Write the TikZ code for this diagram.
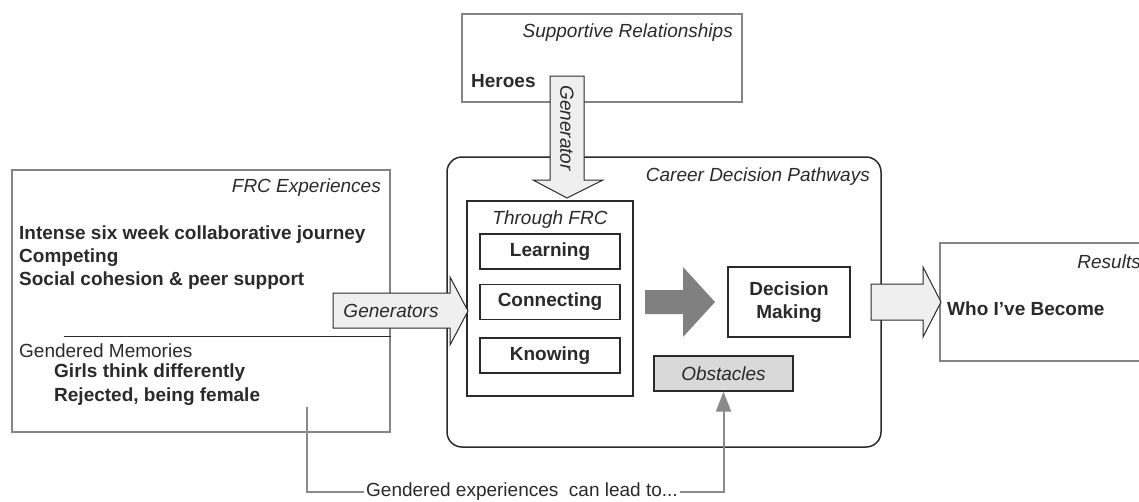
\documentclass[tikz,border=0pt]{standalone}
\usepackage{fontspec}
\setmainfont{Liberation Sans}
\usetikzlibrary{arrows.meta}

\definecolor{boxgray}{HTML}{858585}
\definecolor{inkdark}{HTML}{2A2A2A}
\definecolor{linegray}{HTML}{8A8A8A}
\definecolor{arrowfill}{HTML}{EFEFEF}
\definecolor{obstfill}{HTML}{D9D9D9}
\definecolor{bigarrow}{HTML}{808080}

\newcommand\figsize{\fontsize{19}{23}\selectfont}

\tikzset{
  outerbox/.style={draw=boxgray, line width=2pt, inner sep=0pt},
  innerbox/.style={draw=inkdark, line width=1.2pt, inner sep=0pt},
  blockarrow/.style={draw=inkdark, fill=arrowfill, line width=1pt},
  heading/.style={font=\figsize\itshape, text=inkdark, inner sep=0pt},
  plain/.style={font=\figsize, text=inkdark, inner sep=0pt},
  itembold/.style={font=\figsize\bfseries, text=inkdark, align=left, inner sep=0pt},
  conn/.style={draw=linegray, line width=2pt},
}

\begin{document}
\begin{tikzpicture}[x=1pt, y=-1pt]
\useasboundingbox (0,0) rectangle (1139,501);

% outer boxes
\node[outerbox, minimum width=378pt, minimum height=262pt] (frc) at (201,301) {};
\node[outerbox, minimum width=280pt, minimum height=88pt] (support) at (602,58) {};
\node[outerbox, minimum width=210pt, minimum height=118pt] (results) at (1045,302) {};
\node[draw=inkdark, line width=1.5pt, rounded corners=15pt, inner sep=0pt,
      minimum width=434pt, minimum height=290pt] (career) at (664,302) {};

% FRC experiences
\node[heading, anchor=east] (frctitle) at (381,188) {FRC Experiences};
\node[itembold, anchor=west] (frcitems) at (19,258)
  {Intense six week collaborative journey\\Competing\\Social cohesion \& peer support};
\draw[inkdark, line width=1pt] (64,336) -- (frc.east |- 0,336);
\node[plain, anchor=west] (memtitle) at (19,351) {Gendered Memories};
\node[itembold, anchor=west, font=\fontsize{19}{24}\selectfont\bfseries] (memitems) at (54,385)
  {Girls think differently\\Rejected, being female};

% supportive relationships
\node[heading, anchor=east] (supptitle) at (733,33) {Supportive Relationships};
\node[itembold, anchor=west] (heroes) at (471,81) {Heroes};

% career decision pathways
\node[heading, anchor=east] (careertitle) at (870,177) {Career Decision Pathways};
\node[innerbox, minimum width=166pt, minimum height=195pt] (through) at (550,298.5) {};
\node[heading] (throughtitle) at (550,220) {Through FRC};
\node[innerbox, itembold, minimum width=140pt, minimum height=35pt] (learning) at (550,251.5) {Learning};
\node[innerbox, itembold, minimum width=140pt, minimum height=35pt] (connecting) at (550,302) {Connecting};
\node[innerbox, itembold, minimum width=140pt, minimum height=35pt] (knowing) at (550,355.5) {Knowing};
\node[innerbox, itembold, align=center, minimum width=122pt, minimum height=70pt] (decision) at (789,302) {Decision\\Making};
\node[innerbox, heading, fill=obstfill, minimum width=139pt, minimum height=35pt] (obst) at (723.5,373.5) {Obstacles};

% results
\node[heading, anchor=east] (resulttitle) at (1141,262) {Results};
\node[itembold, anchor=west] (become) at (947,309) {Who I’ve Become};

% block arrows
\filldraw[blockarrow] (333,293) -- (450,293) -- (450,277) -- (468,311) -- (450,345) -- (450,328) -- (333,328) -- cycle;
\node[heading] (gens) at (391,311) {Generators};
\filldraw[blockarrow] (550,76) -- (584,76) -- (584,180) -- (603,180) -- (567,198) -- (533,180) -- (550,180) -- cycle;
\node[heading, rotate=-90] (gen) at (567,128) {Generator};
\fill[bigarrow] (645,290) -- (683,290) -- (683,267) -- (715,302) -- (683,337) -- (683,314) -- (645,314) -- cycle;
\filldraw[blockarrow] (871,284) -- (923,284) -- (923,267) -- (941,302) -- (923,337) -- (923,320) -- (871,320) -- cycle;

% gendered experiences lead to obstacles
\coordinate (memfoot) at (307,407);
\node[plain, inner sep=2pt] (leadto) at (522,492) {Gendered experiences\ \ can lead to...};
\draw[conn] (memfoot) |- (leadto.west);
\draw[conn, -{Triangle[width=15pt,length=20pt]}, color=linegray] (leadto.east) -| (obst.south);
\end{tikzpicture}
\end{document}
